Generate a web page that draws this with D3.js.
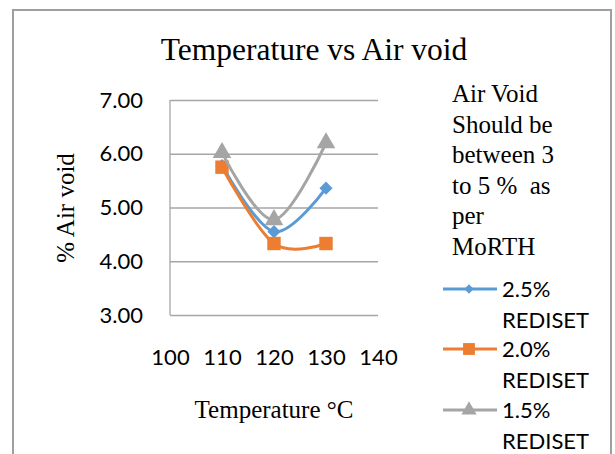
<!DOCTYPE html>
<html>
<head>
<meta charset="utf-8">
<script src="https://cdn.jsdelivr.net/npm/d3@7"></script>
<style>
  body { margin: 0; background: #fff; }
</style>
</head>
<body>
<svg id="chart"></svg>
<script>
// Data
const temperatures = [110, 120, 130];
const seriesNames = ["2.5% REDISET", "2.0% REDISET", "1.5% REDISET"];
const rediset25 = [5.78, 4.55, 5.36];
const rediset20 = [5.75, 4.33, 4.33];
const rediset15 = [6.02, 4.77, 6.20];
const xTicks = [100, 110, 120, 130, 140];
const yTicks = [3, 4, 5, 6, 7];
const noteLines = ["Air Void", "Should be", "between 3", "to 5 %  as", "per", "MoRTH"];

const width = 615;
const height = 454;
const plot = {left: 170, right: 378, top: 100, bottom: 315};

const svg = d3.select("#chart")
    .attr("width", width)
    .attr("height", height);

// Chart frame
svg.append("rect")
    .attr("x", 13)
    .attr("y", 10)
    .attr("width", 598)
    .attr("height", 460)
    .attr("fill", "#fff")
    .attr("stroke", "#9f9f9f")
    .attr("stroke-width", 2);

// Scales
const x = d3.scaleLinear()
    .domain([100, 140])
    .range([plot.left, plot.right]);

const y = d3.scaleLinear()
    .domain([3, 7])
    .range([plot.bottom, plot.top]);

const color = d3.scaleOrdinal()
    .domain(seriesNames)
    .range(["#5b9bd5", "#ed7d31", "#a5a5a5"]);

// Gridlines + y axis
const yAxis = svg.append("g")
    .attr("transform", `translate(${plot.left},0)`)
    .call(d3.axisLeft(y)
        .tickValues(yTicks)
        .tickSize(-(plot.right - plot.left))
        .tickPadding(27)
        .tickFormat(d3.format(".2f")));
yAxis.select(".domain").remove();
yAxis.selectAll("line")
    .attr("stroke", "#a6a6a6")
    .attr("stroke-width", 1.3);
yAxis.selectAll("text")
    .style("font-family", "Lato")
    .style("font-size", "22px")
    .attr("fill", "#000");

// Left axis line
svg.append("line")
    .attr("x1", plot.left)
    .attr("x2", plot.left)
    .attr("y1", y(7))
    .attr("y2", y(3))
    .attr("stroke", "#a6a6a6")
    .attr("stroke-width", 1.3);

// x axis labels
const xAxis = svg.append("g")
    .attr("transform", `translate(0,${plot.bottom})`)
    .call(d3.axisBottom(x).tickValues(xTicks).tickSize(0).tickPadding(34));
xAxis.select(".domain").remove();
xAxis.selectAll("text")
    .style("font-family", "Lato")
    .style("font-size", "22px")
    .attr("fill", "#000");

// Title
svg.append("text")
    .attr("x", 314)
    .attr("y", 60)
    .style("text-anchor", "middle")
    .style("font-family", "Liberation Serif")
    .style("font-size", "31.5px")
    .text("Temperature vs Air void");

// Axis titles
svg.append("text")
    .attr("x", 274)
    .attr("y", 418)
    .style("text-anchor", "middle")
    .style("font-family", "Liberation Serif")
    .style("font-size", "25px")
    .text("Temperature °C");

svg.append("text")
    .attr("transform", "rotate(-90)")
    .attr("x", -208)
    .attr("y", 74)
    .style("text-anchor", "middle")
    .style("font-family", "Liberation Serif")
    .style("font-size", "25px")
    .text("% Air void");

// Note text
svg.append("g").selectAll("text")
    .data(noteLines)
    .enter()
    .append("text")
    .attr("x", 452)
    .attr("y", (d, i) => 102 + i * 30.6)
    .style("font-family", "Liberation Serif")
    .style("font-size", "25px")
    .style("white-space", "pre")
    .attr("xml:space", "preserve")
    .text(d => d);

// Markers (Excel diamond is a square turned 45 degrees)
const symbols = [d3.symbolDiamond2, d3.symbolSquare, d3.symbolTriangle];
const markerSizes = [110, 180, 150];
const legendSizes = [55, 140, 100];

const series = [rediset25, rediset20, rediset15];

const line = d3.line()
    .x((d, i) => x(temperatures[i]))
    .y(d => y(d))
    .curve(d3.curveCardinal.tension(0));

// Draw in the Excel order: 2.5% first, 2.0% then 1.5% on top
series.forEach((values, s) => {
    svg.append("path")
        .datum(values)
        .attr("fill", "none")
        .attr("stroke", color(seriesNames[s]))
        .attr("stroke-width", 3)
        .attr("d", line);

    svg.append("g").selectAll("path")
        .data(values)
        .enter()
        .append("path")
        .attr("transform", (d, i) => `translate(${x(temperatures[i])},${y(d)})`)
        .attr("d", d3.symbol().type(symbols[s]).size(markerSizes[s]))
        .attr("fill", color(seriesNames[s]));
});

// Legend
const legendY = [289, 349, 410];
seriesNames.forEach((name, s) => {
    const g = svg.append("g");
    g.append("line")
        .attr("x1", 443)
        .attr("x2", 497)
        .attr("y1", legendY[s])
        .attr("y2", legendY[s])
        .attr("stroke", color(name))
        .attr("stroke-width", 3);
    g.append("path")
        .attr("transform", `translate(469,${legendY[s]})`)
        .attr("d", d3.symbol().type(symbols[s]).size(legendSizes[s]))
        .attr("fill", color(name));
    const parts = name.split(" ");
    g.append("text")
        .attr("x", 502)
        .attr("y", legendY[s] + 8)
        .style("font-family", "Lato")
        .style("font-size", "22px")
        .text(parts[0]);
    g.append("text")
        .attr("x", 502)
        .attr("y", legendY[s] + 39)
        .style("font-family", "Lato")
        .style("font-size", "22px")
        .text(parts[1]);
});
</script>
</body>
</html>
